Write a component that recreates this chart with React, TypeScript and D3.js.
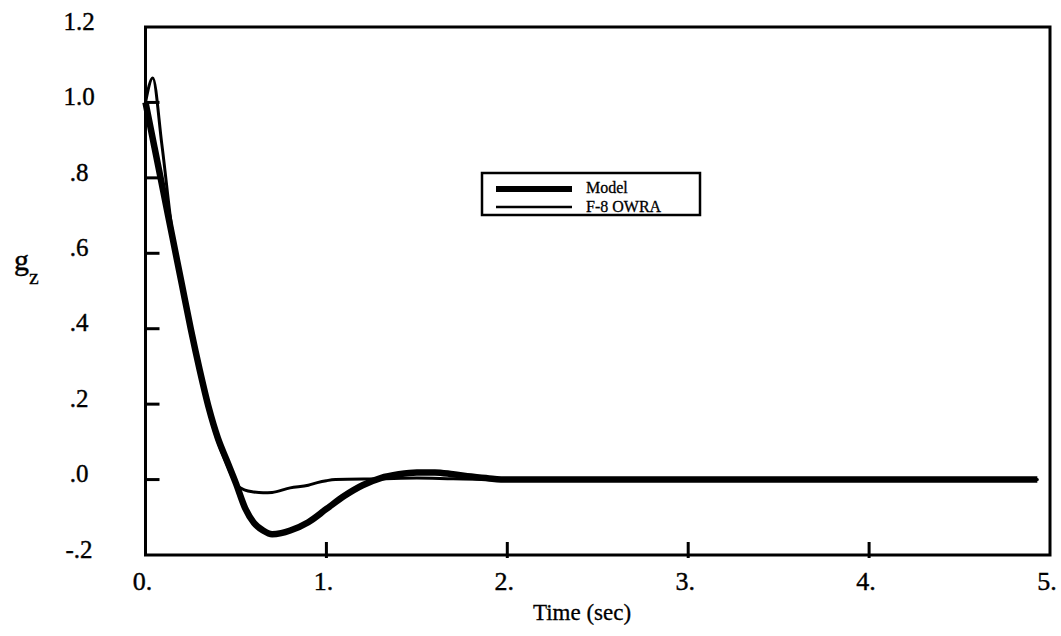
import React from "react";
import * as d3 from "d3";

// Step response: model vs. flight data
const modelTime = [0, 0.05, 0.1, 0.15, 0.2, 0.25, 0.3, 0.35, 0.4, 0.45, 0.5, 0.55, 0.6, 0.65, 0.7, 0.75, 0.8, 0.9, 1.0, 1.1, 1.2, 1.3, 1.4, 1.5, 1.6, 1.7, 1.8, 1.9, 2.0, 3.0, 4.0, 4.93];
const modelValue = [1.0, 0.88, 0.76, 0.64, 0.52, 0.4, 0.29, 0.19, 0.11, 0.05, -0.01, -0.075, -0.115, -0.135, -0.145, -0.142, -0.135, -0.113, -0.078, -0.043, -0.015, 0.004, 0.014, 0.019, 0.019, 0.014, 0.008, 0.003, 0, 0, 0, 0];

const owraTime = [0, 0.04, 0.09, 0.15, 0.2, 0.25, 0.3, 0.35, 0.4, 0.45, 0.5, 0.55, 0.6, 0.65, 0.7, 0.8, 0.9, 0.95, 1.0, 1.05, 1.3, 1.5, 1.7, 2.0, 3.0, 4.0, 4.93];
const owraValue = [1.0, 1.065, 0.89, 0.65, 0.52, 0.39, 0.28, 0.18, 0.1, 0.04, -0.012, -0.028, -0.033, -0.035, -0.034, -0.022, -0.015, -0.008, -0.003, 0, 0.002, 0.004, 0.002, 0, 0, 0, 0];

const xTicks = [0, 1, 2, 3, 4, 5];
const xTickLabels = ["0.", "1.", "2.", "3.", "4.", "5."];
const yTicks = [-0.2, 0, 0.2, 0.4, 0.6, 0.8, 1.0, 1.2];
const yTickLabels = ["-.2", ".0", ".2", ".4", ".6", ".8", "1.0", "1.2"];

const seriesNames = ["Model", "F-8 OWRA"];

const W = 1061;
const H = 636;
const FONT = "Liberation Serif, Times New Roman, Times, serif";

export default function App() {
  const x = d3.scaleLinear().domain([0, 5]).range([145.5, 1050]);
  const y = d3.scaleLinear().domain([-0.2, 1.2]).range([555, 27]);

  const line = d3
    .line<[number, number]>()
    .x((d) => x(d[0]))
    .y((d) => y(d[1]))
    .curve(d3.curveMonotoneX);

  const modelPts = modelTime.map((t, i) => [t, modelValue[i]] as [number, number]);
  const owraPts = owraTime.map((t, i) => [t, owraValue[i]] as [number, number]);

  const [x0, x1] = x.range();
  const [yb, yt] = y.range();

  return (
    <svg
      width={W}
      height={H}
      style={{ position: "absolute", left: 0, top: 0, background: "#fff" }}
      fontFamily={FONT}
    >
      <rect x={0} y={0} width={W} height={H} fill="#fff" />

      {/* data curves */}
      <path d={line(owraPts) ?? ""} fill="none" stroke="#000" strokeWidth={3} strokeLinejoin="round" strokeLinecap="round" />
      <path d={line(modelPts) ?? ""} fill="none" stroke="#000" strokeWidth={6.5} strokeLinejoin="round" strokeLinecap="butt" />

      {/* frame */}
      <rect x={x0} y={yt} width={x1 - x0} height={yb - yt} fill="none" stroke="#000" strokeWidth={3} />

      {/* y ticks, inward */}
      {yTicks.slice(1, -1).map((v) => (
        <line key={"yt" + v} x1={x0} x2={x0 + 14} y1={y(v)} y2={y(v)} stroke="#000" strokeWidth={3} />
      ))}
      {yTicks.map((v, i) => (
        <text key={"yl" + v} x={79} y={y(v) - 3} fontSize={25} textAnchor="middle" dominantBaseline="middle" fill="#000" stroke="#000" strokeWidth={0.4}>
          {yTickLabels[i]}
        </text>
      ))}

      {/* x ticks, inward */}
      {xTicks.slice(1, -1).map((v) => (
        <line key={"xt" + v} x1={x(v)} x2={x(v)} y1={yb - 13} y2={yb + 3} stroke="#000" strokeWidth={3} />
      ))}
      {xTicks.map((v, i) => (
        <text key={"xl" + v} x={x(v) - 3} y={590} fontSize={26} textAnchor="middle" fill="#000" stroke="#000" strokeWidth={0.4}>
          {xTickLabels[i]}
        </text>
      ))}

      {/* axis titles */}
      <text x={582} y={620} fontSize={23} textAnchor="middle" fill="#000" stroke="#000" strokeWidth={0.3}>
        Time (sec)
      </text>
      <text x={14} y={270} fontSize={30} fill="#000" stroke="#000" strokeWidth={0.4}>
        g
      </text>
      <text x={29} y={284} fontSize={22} fill="#000" stroke="#000" strokeWidth={0.3}>
        z
      </text>

      {/* legend */}
      <g>
        <rect x={482} y={173} width={218} height={42} fill="#fff" stroke="#000" strokeWidth={2.5} />
        <line x1={496} x2={572} y1={189} y2={189} stroke="#000" strokeWidth={6} />
        <line x1={496} x2={572} y1={207} y2={207} stroke="#000" strokeWidth={2.5} />
        <text x={586} y={193} fontSize={16} fill="#000" stroke="#000" strokeWidth={0.3}>
          {seriesNames[0]}
        </text>
        <text x={586} y={212} fontSize={16} fill="#000" stroke="#000" strokeWidth={0.3}>
          {seriesNames[1]}
        </text>
      </g>
    </svg>
  );
}
